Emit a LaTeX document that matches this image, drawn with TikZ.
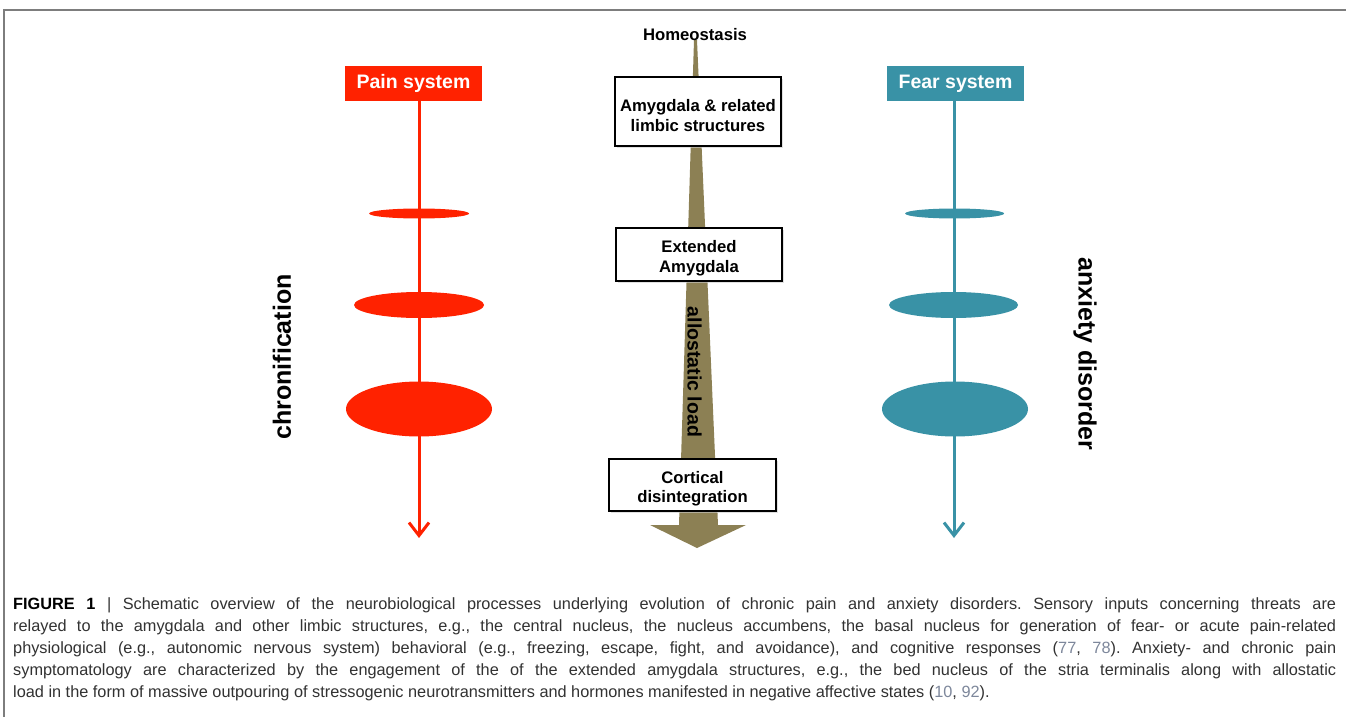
\documentclass[tikz,border=0pt]{standalone}
\usepackage{fontspec}
\setmainfont{Liberation Sans}
\usetikzlibrary{shapes.geometric,arrows.meta,shadows}
\definecolor{painred}{RGB}{255,34,0}
\definecolor{fearteal}{RGB}{57,146,166}
\definecolor{olive}{RGB}{140,128,84}
\definecolor{framegray}{RGB}{125,125,125}
\definecolor{captext}{RGB}{50,50,50}
\definecolor{citecol}{RGB}{125,135,155}
\newcommand{\cit}[1]{\textcolor{citecol}{#1}}
\frenchspacing
\begin{document}
\begin{tikzpicture}[x=1pt,y=-1pt,
  sysbox/.style={rectangle,inner sep=0pt,minimum width=137pt,minimum height=35pt,text=white,font=\fontsize{19.5}{22}\selectfont\bfseries},
  stagebox/.style={rectangle,draw=black,line width=1.1pt,fill=white,inner sep=0pt,minimum width=166pt,
    drop shadow={shadow xshift=2pt,shadow yshift=-2pt,fill=black!20,opacity=.6}},
  stagetext/.style={inner sep=0pt,align=center,font=\fontsize{16.7}{19.5}\selectfont\bfseries},
  blob/.style={ellipse,inner sep=0pt},
  sysline/.style={line width=3pt,-{Straight Barb[length=13pt,width=20pt,line width=3pt]}},
  sidelabel/.style={font=\fontsize{25}{28}\selectfont\bfseries,inner sep=0pt},
  capline/.style={anchor=base west,inner sep=0pt,text=captext,font=\fontsize{16.3}{22}\selectfont}
]
\useasboundingbox (0,0) rectangle (1346,717);
\fill[white] (0,0) rectangle (1346,717);
% frame
\draw[framegray,line width=1.2pt] (4,717) -- (4,10) -- (1346,10);

% central olive arrow
\fill[olive] (694,40) -- (679,525) -- (650,525) -- (697,548) -- (746,525) -- (718,525) -- (697,40) -- cycle;

\node[font=\fontsize{16.7}{19}\selectfont\bfseries,inner sep=0pt] (homeo) at (695,35) {Homeostasis};

\node[stagebox,minimum height=69pt] (amy) at (698,111.5) {};
\node[stagetext] (amytext) at ([yshift=-4pt]amy.center) {Amygdala \& related\\limbic structures};
\node[stagebox,minimum height=53pt] (ext) at (699,254.5) {};
\node[stagetext] (exttext) at ([yshift=-3.5pt]ext.center) {Extended\\Amygdala};
\node[stagebox,minimum height=52pt,minimum width=167pt] (cort) at (692.5,485) {};
\node[stagetext] (corttext) at ([yshift=-3.5pt]cort.center) {Cortical\\disintegration};
\node[font=\fontsize{19.5}{22}\selectfont\bfseries,rotate=-90,inner sep=0pt] (allo) at (694.5,372) {allostatic load};

% pain system
\node[sysbox,fill=painred] (pain) at (413.5,83.5) {Pain system};
\coordinate (painend) at (419,538);
\node[blob,fill=painred,minimum width=100pt,minimum height=10pt] (p1) at (419,213.5) {};
\node[blob,fill=painred,minimum width=130pt,minimum height=26pt] (p2) at (419,305) {};
\node[blob,fill=painred,minimum width=146pt,minimum height=55pt] (p3) at (419,409) {};
\draw[sysline,painred] (pain.south -| painend) -- (painend);

% fear system
\node[sysbox,fill=fearteal,minimum height=34pt] (fear) at (955.5,83.5) {Fear system};
\coordinate (fearend) at (954,538);
\node[blob,fill=fearteal,minimum width=99pt,minimum height=10pt] (f1) at (954.5,213.5) {};
\node[blob,fill=fearteal,minimum width=129pt,minimum height=26pt] (f2) at (953.5,305) {};
\node[blob,fill=fearteal,minimum width=146pt,minimum height=55pt] (f3) at (955,409) {};
\draw[sysline,fearteal] (fear.south -| fearend) -- (fearend);

\node[sidelabel,rotate=90] (chron) at (282,357) {chronification};
\node[sidelabel,rotate=-90] (anx) at (1085,354) {anxiety disorder};

% caption
\node[capline] (c1) at (13,609) {\makebox[1323pt][s]{\textcolor{black}{\bfseries FIGURE 1} | Schematic overview of the neurobiological processes underlying evolution of chronic pain and anxiety disorders. Sensory inputs concerning threats are}};
\node[capline] (c2) at (13,631) {\makebox[1323pt][s]{relayed to the amygdala and other limbic structures, e.g., the central nucleus, the nucleus accumbens, the basal nucleus for generation of fear- or acute pain-related}};
\node[capline] (c3) at (13,653) {\makebox[1323pt][s]{physiological (e.g., autonomic nervous system) behavioral (e.g., freezing, escape, fight, and avoidance), and cognitive responses (\cit{77}, \cit{78}). Anxiety- and chronic pain}};
\node[capline] (c4) at (13,675) {\makebox[1323pt][s]{symptomatology are characterized by the engagement of the of the extended amygdala structures, e.g., the bed nucleus of the stria terminalis along with allostatic}};
\node[capline] (c5) at (13,697) {load in the form of massive outpouring of stressogenic neurotransmitters and hormones manifested in negative affective states (\cit{10}, \cit{92}).};
\end{tikzpicture}
\end{document}
